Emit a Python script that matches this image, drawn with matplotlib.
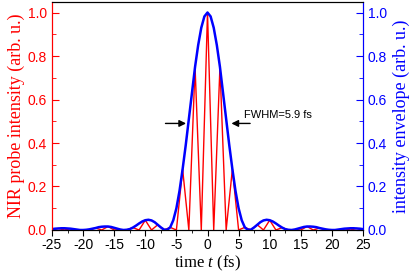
import matplotlib
matplotlib.use("Agg")
import matplotlib.pyplot as plt
import numpy as np

plt.rcParams['axes.unicode_minus'] = False
plt.rcParams['mathtext.fontset'] = 'custom'
plt.rcParams['mathtext.it'] = 'Liberation Serif:italic'
plt.rcParams['mathtext.rm'] = 'Liberation Serif'

# red probe intensity, sampled every 1 fs (-25 ... 25)
t_probe = np.arange(-25, 26, 1)
probe = [0, 0.007, 0, 0.006, 0, 0.0, 0, 0.009, 0, 0.016, 0, 0.002, 0,
         0.011, 0, 0.045, 0, 0.024, 0, 0.012, 0, 0.28, 0, 0.75, 0,
         1.0,
         0, 0.75, 0, 0.28, 0, 0.012, 0, 0.024, 0, 0.045, 0, 0.011, 0,
         0.002, 0, 0.016, 0, 0.009, 0, 0.0, 0, 0.006, 0, 0.007, 0]

# blue envelope, every 0.5 fs (0 ... 25, symmetric)
t_env = np.arange(-25, 25.5, 0.5)
env_right = [1.0, 0.982, 0.93, 0.85, 0.75, 0.63, 0.51, 0.39, 0.28, 0.18,
             0.10, 0.045, 0.012, 0.001, 0.002, 0.012, 0.024, 0.036, 0.044, 0.047,
             0.045, 0.039, 0.030, 0.020, 0.011, 0.004, 0.001, 0.0, 0.002, 0.006,
             0.010, 0.014, 0.016, 0.016, 0.015, 0.013, 0.009, 0.006, 0.003, 0.001,
             0.0, 0.0, 0.002, 0.004, 0.006, 0.007, 0.008, 0.008, 0.007, 0.006, 0.004]
envelope = env_right[:0:-1] + env_right

fig = plt.figure(figsize=(4.15, 2.76), dpi=100)
ax = fig.add_axes([0.1253, 0.1667, 0.7494, 0.8273])
ax2 = ax.twinx()

ax.plot(t_probe, probe, color='red', lw=1.0)
ax2.plot(t_env, envelope, color='blue', lw=1.8)

ax.set_xlim(-25, 25)
ax.set_ylim(0, 1.05)
ax2.set_ylim(0, 1.05)
ax.set_xticks(np.arange(-25, 26, 5))
ax.set_xticks(np.arange(-25, 26, 2.5), minor=True)
for a in (ax, ax2):
    a.set_yticks(np.arange(0, 1.01, 0.2))
    a.set_yticks(np.arange(0, 1.01, 0.1), minor=True)
    a.set_yticklabels(['%.1f' % v for v in np.arange(0, 1.01, 0.2)])

for lab in ax.get_xticklabels() + ax.get_yticklabels() + ax2.get_yticklabels():
    lab.set_fontfamily('Liberation Sans')
    lab.set_fontsize(10)

ax.tick_params(axis='x', which='major', direction='out', length=4, pad=2)
ax.tick_params(axis='x', which='minor', direction='out', length=2.5)
ax.tick_params(axis='y', which='both', direction='in', colors='red')
ax.tick_params(axis='y', which='major', length=5)
ax.tick_params(axis='y', which='minor', length=3)
ax2.tick_params(axis='y', which='both', direction='in', colors='blue')
ax2.tick_params(axis='y', which='major', length=5)
ax2.tick_params(axis='y', which='minor', length=3)

ax2.spines['left'].set_color('red')
ax2.spines['right'].set_color('blue')
ax.spines['left'].set_color('red')
ax.spines['right'].set_color('blue')

ax.set_xlabel('time $t$ (fs)', family='Liberation Serif', size=12, labelpad=1)
ax.set_ylabel('NIR probe intensity (arb. u.)', family='Liberation Serif',
              size=13, color='red', labelpad=2)
ax2.set_ylabel('intensity envelope (arb. u.)', family='Liberation Serif',
               size=13, color='blue', labelpad=4)

ax2.annotate('', xy=(-3.0, 0.49), xytext=(-7.2, 0.49),
             arrowprops=dict(arrowstyle='-|>', color='black', lw=1, mutation_scale=10))
ax2.annotate('', xy=(3.4, 0.49), xytext=(7.3, 0.49),
             arrowprops=dict(arrowstyle='-|>', color='black', lw=1, mutation_scale=10))
ax2.text(5.9, 0.53, 'FWHM=5.9 fs', family='Liberation Sans', size=8, va='center')

fig.savefig('out.png', dpi=100)
